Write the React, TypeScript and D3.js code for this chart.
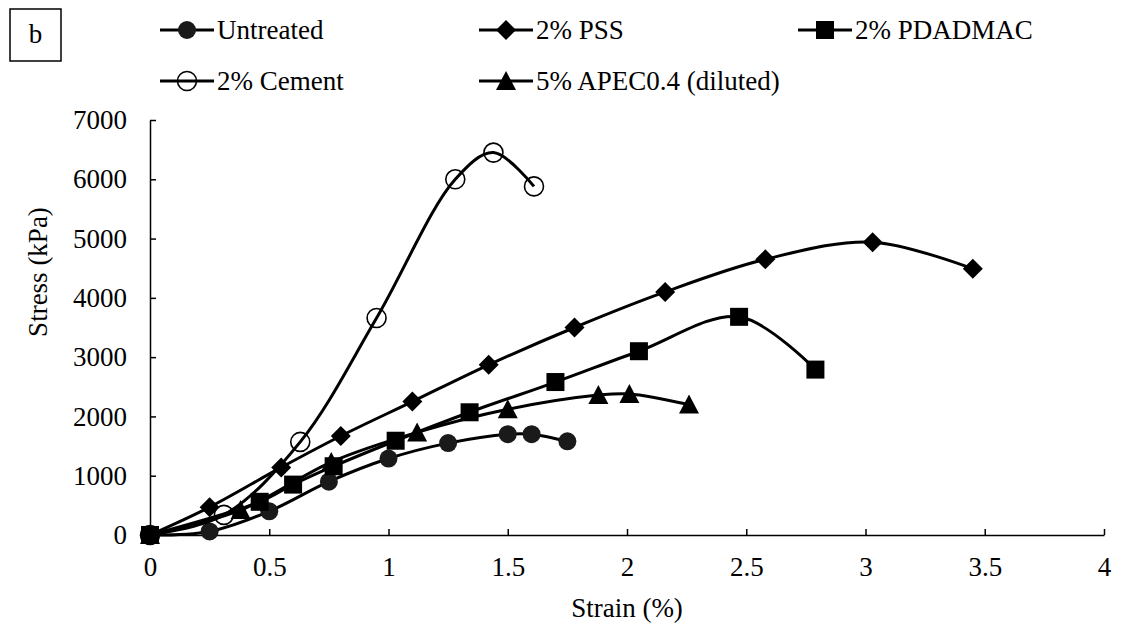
import React, { useEffect, useRef } from 'react';
import * as d3 from 'd3';

// values (strain in %, stress in kPa)
const untreatedStrain = [0, 0.25, 0.5, 0.75, 1.0, 1.25, 1.5, 1.6, 1.75];
const untreatedStress = [0, 60, 400, 900, 1290, 1550, 1700, 1700, 1580];

const pssStrain = [0, 0.25, 0.55, 0.8, 1.1, 1.42, 1.78, 2.16, 2.58, 3.03, 3.45];
const pssStress = [0, 470, 1140, 1670, 2250, 2870, 3500, 4100, 4650, 4940, 4490];

const pdadmacStrain = [0, 0.46, 0.6, 0.77, 1.03, 1.34, 1.7, 2.05, 2.47, 2.79];
const pdadmacStress = [0, 560, 850, 1160, 1590, 2070, 2580, 3100, 3680, 2790];

const cementStrain = [0, 0.31, 0.63, 0.95, 1.28, 1.44, 1.61];
const cementStress = [0, 340, 1570, 3660, 6000, 6450, 5880];

const apecStrain = [0, 0.38, 0.76, 1.12, 1.5, 1.88, 2.01, 2.26];
const apecStress = [0, 420, 1230, 1730, 2120, 2360, 2380, 2200];

const seriesNames = ['Untreated', '2% PSS', '2% PDADMAC', '2% Cement', '5% APEC0.4 (diluted)'];
const seriesMarkers = ['circle', 'diamond', 'square', 'open', 'triangle'];

const xTicks = [0, 0.5, 1, 1.5, 2, 2.5, 3, 3.5, 4];
const yTicks = [0, 1000, 2000, 3000, 4000, 5000, 6000, 7000];

const FONT = "'Liberation Serif', 'Times New Roman', Times, serif";

function App() {
  const ref = useRef<SVGSVGElement>(null);

  useEffect(() => {
    const svg = d3.select(ref.current);
    svg.selectAll('*').remove();

    const x = d3.scaleLinear().domain([0, 4]).range([150, 1104]);
    const y = d3.scaleLinear().domain([0, 7000]).range([535, 120]);

    const series = [
      d3.zip(untreatedStrain, untreatedStress),
      d3.zip(pssStrain, pssStress),
      d3.zip(pdadmacStrain, pdadmacStress),
      d3.zip(cementStrain, cementStress),
      d3.zip(apecStrain, apecStress),
    ];

    // axes
    const yAxis = svg.append('g')
      .attr('transform', `translate(${x(0)},0)`)
      .call(d3.axisLeft(y).tickValues(yTicks).tickSizeInner(-6).tickSizeOuter(0).tickPadding(23)
        .tickFormat(d3.format('d')));
    const xAxis = svg.append('g')
      .attr('transform', `translate(0,${y(0)})`)
      .call(d3.axisBottom(x).tickValues(xTicks).tickSizeInner(-6).tickSizeOuter(0).tickPadding(22)
        .tickFormat(d => String(d)));
    [xAxis, yAxis].forEach(g => {
      g.attr('font-family', null).attr('font-size', null);
      g.selectAll('path, line').attr('stroke', '#000').attr('stroke-width', 1.5);
      g.selectAll('text').attr('fill', '#000');
    });

    svg.append('text')
      .attr('x', 627).attr('y', 617)
      .attr('text-anchor', 'middle')
      .text('Strain (%)');
    svg.append('text')
      .attr('transform', 'translate(47,272) rotate(-90)')
      .attr('text-anchor', 'middle')
      .text('Stress (kPa)');

    const drawMarker = (g, kind, cx, cy) => {
      if (kind === 'circle') {
        g.append('circle').attr('cx', cx).attr('cy', cy).attr('r', 9).attr('fill', '#1a1a1a');
      } else if (kind === 'open') {
        g.append('circle').attr('cx', cx).attr('cy', cy).attr('r', 9.5)
          .attr('fill', 'none').attr('stroke', '#000').attr('stroke-width', 1.6);
      } else if (kind === 'diamond') {
        g.append('path')
          .attr('d', `M${cx},${cy - 10}L${cx + 10},${cy}L${cx},${cy + 10}L${cx - 10},${cy}Z`)
          .attr('fill', '#000');
      } else if (kind === 'square') {
        g.append('rect').attr('x', cx - 9).attr('y', cy - 9).attr('width', 18).attr('height', 18)
          .attr('fill', '#000');
      } else {
        g.append('path')
          .attr('d', `M${cx},${cy - 10}L${cx + 10},${cy + 9}L${cx - 10},${cy + 9}Z`)
          .attr('fill', '#000');
      }
    };

    const line = d3.line()
      .x(d => x(d[0]))
      .y(d => y(d[1]))
      .curve(d3.curveCatmullRom.alpha(0.5));

    series.forEach((pts, i) => {
      const g = svg.append('g');
      g.append('path')
        .attr('d', line(pts))
        .attr('fill', 'none')
        .attr('stroke', '#000')
        .attr('stroke-width', 3);
      pts.forEach(p => drawMarker(g, seriesMarkers[i], x(p[0]), y(p[1])));
    });

    // legend
    const legendX = [160, 479, 798];
    const legendY = [30, 81];
    seriesNames.forEach((name, i) => {
      const lx = legendX[i % 3];
      const ly = legendY[Math.floor(i / 3)];
      const g = svg.append('g');
      g.append('line')
        .attr('x1', lx).attr('x2', lx + 54)
        .attr('y1', ly).attr('y2', ly)
        .attr('stroke', '#000').attr('stroke-width', 3);
      drawMarker(g, seriesMarkers[i], lx + 27, ly);
      g.append('text')
        .attr('x', lx + 57).attr('y', ly + 9)
        .text(name);
    });

    // panel label
    svg.append('rect')
      .attr('x', 10).attr('y', 9).attr('width', 51).attr('height', 52)
      .attr('fill', 'none').attr('stroke', '#000').attr('stroke-width', 1.5);
    svg.append('text')
      .attr('x', 35.5).attr('y', 43)
      .attr('text-anchor', 'middle')
      .text('b');
  });

  return (
    <svg ref={ref} width={1121} height={630} fontFamily={FONT} fontSize={27}
      style={{ position: 'absolute', left: 0, top: 0, background: '#fff' }} />
  );
}

export default App;
